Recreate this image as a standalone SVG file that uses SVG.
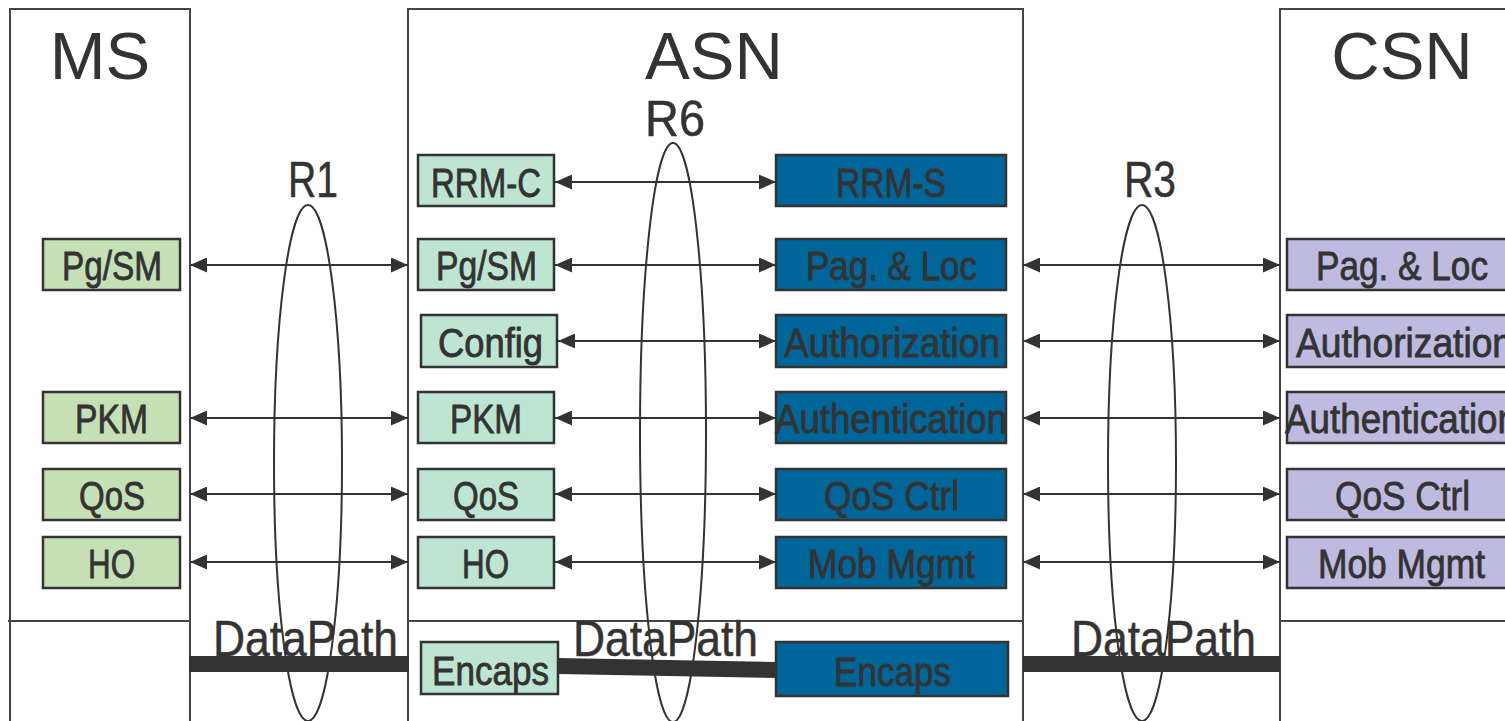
<svg xmlns="http://www.w3.org/2000/svg" width="1505" height="721" viewBox="0 0 1505 721">
<defs>
<marker id="ah" markerUnits="userSpaceOnUse" markerWidth="17" markerHeight="15" viewBox="0 0 17 15" refX="17" refY="7.5" orient="auto-start-reverse">
<path d="M0,0 L17,7.5 L0,15 z" fill="#333"/>
</marker>
<style>
.cont{fill:none;stroke:#444;stroke-width:2}
.div{stroke:#444;stroke-width:2}
.title{font-family:"Liberation Sans",Arial,sans-serif;font-size:67px;fill:#333;text-anchor:middle}
.lbl{font-family:"Liberation Sans Narrow","Liberation Sans",Arial,sans-serif;font-size:40px;fill:#333;stroke:#333;stroke-width:0.8}
.big{font-family:"Liberation Sans Narrow","Liberation Sans",Arial,sans-serif;font-size:50px;fill:#333;stroke:#333;stroke-width:0.5}
.ms{fill:#c6e0b6;stroke:#333;stroke-width:2.5}
.asn{fill:#bde5d1;stroke:#333;stroke-width:2.5}
.blue{fill:#006699;stroke:#333;stroke-width:2.5}
.csn{fill:#bebae0;stroke:#333;stroke-width:2.5}
.arr{stroke:#333;stroke-width:2;fill:none;marker-start:url(#ah);marker-end:url(#ah)}
.dp{stroke:#333;stroke-width:16;fill:none}
.ell{fill:none;stroke:#333;stroke-width:2}
</style>
</defs>
<rect width="1505" height="721" fill="#fff"/>

<g id="containers">
<rect class="cont" x="10" y="9" width="180" height="730"/>
<rect class="cont" x="408" y="9" width="615" height="730"/>
<rect class="cont" x="1280" y="9" width="240" height="730"/>
<line class="div" x1="8" y1="621" x2="190" y2="621"/>
<line class="div" x1="408" y1="621" x2="1023" y2="621"/>
<line class="div" x1="1280" y1="621" x2="1505" y2="621"/>
<text class="title" x="100" y="79">MS</text>
<text class="title" x="714" y="79">ASN</text>
<text class="title" x="1402" y="79">CSN</text>
</g>

<g id="ms-pgsm"><rect class="ms" x="43" y="239" width="137" height="51"/><text class="lbl" x="62" y="280" textLength="100" lengthAdjust="spacingAndGlyphs">Pg/SM</text></g>
<g id="ms-pkm"><rect class="ms" x="43" y="392" width="137" height="51"/><text class="lbl" x="75" y="433" textLength="73" lengthAdjust="spacingAndGlyphs">PKM</text></g>
<g id="ms-qos"><rect class="ms" x="43" y="469" width="137" height="51"/><text class="lbl" x="79" y="510" textLength="66" lengthAdjust="spacingAndGlyphs">QoS</text></g>
<g id="ms-ho"><rect class="ms" x="43" y="537" width="137" height="51"/><text class="lbl" x="88" y="578" textLength="47" lengthAdjust="spacingAndGlyphs">HO</text></g>

<g id="asn-rrmc"><rect class="asn" x="418" y="155" width="136" height="51"/><text class="lbl" x="431" y="197" textLength="110" lengthAdjust="spacingAndGlyphs">RRM-C</text></g>
<g id="asn-pgsm"><rect class="asn" x="418" y="239" width="136" height="51"/><text class="lbl" x="436" y="280" textLength="101" lengthAdjust="spacingAndGlyphs">Pg/SM</text></g>
<g id="asn-config"><rect class="asn" x="421" y="315" width="136" height="52"/><text class="lbl" x="438" y="357" textLength="105" lengthAdjust="spacingAndGlyphs">Config</text></g>
<g id="asn-pkm"><rect class="asn" x="418" y="392" width="136" height="51"/><text class="lbl" x="450" y="433" textLength="72" lengthAdjust="spacingAndGlyphs">PKM</text></g>
<g id="asn-qos"><rect class="asn" x="418" y="469" width="136" height="51"/><text class="lbl" x="453" y="510" textLength="66" lengthAdjust="spacingAndGlyphs">QoS</text></g>
<g id="asn-ho"><rect class="asn" x="418" y="537" width="136" height="51"/><text class="lbl" x="462" y="578" textLength="47" lengthAdjust="spacingAndGlyphs">HO</text></g>
<g id="asn-encaps"><rect class="asn" x="421" y="642" width="137" height="52"/><text class="lbl" x="432" y="685" textLength="117" lengthAdjust="spacingAndGlyphs">Encaps</text></g>

<g id="asn-rrms"><rect class="blue" x="776" y="155" width="230" height="51"/><text class="lbl" x="836" y="197" textLength="110" lengthAdjust="spacingAndGlyphs">RRM-S</text></g>
<g id="asn-pagloc"><rect class="blue" x="776" y="239" width="230" height="51"/><text class="lbl" x="806" y="280" textLength="171" lengthAdjust="spacingAndGlyphs">Pag. &amp; Loc</text></g>
<g id="asn-authz"><rect class="blue" x="776" y="315" width="230" height="52"/><text class="lbl" x="784" y="357" textLength="216" lengthAdjust="spacingAndGlyphs">Authorization</text></g>
<g id="asn-authn"><rect class="blue" x="776" y="392" width="230" height="51"/><text class="lbl" x="775" y="433" textLength="232" lengthAdjust="spacingAndGlyphs">Authentication</text></g>
<g id="asn-qosctrl"><rect class="blue" x="776" y="469" width="230" height="51"/><text class="lbl" x="824" y="510" textLength="135" lengthAdjust="spacingAndGlyphs">QoS Ctrl</text></g>
<g id="asn-mobmgmt"><rect class="blue" x="776" y="537" width="230" height="51"/><text class="lbl" x="808" y="578" textLength="167" lengthAdjust="spacingAndGlyphs">Mob Mgmt</text></g>
<g id="asn-encaps2"><rect class="blue" x="776" y="642" width="232" height="54"/><text class="lbl" x="834" y="686" textLength="117" lengthAdjust="spacingAndGlyphs">Encaps</text></g>

<g id="csn-pagloc"><rect class="csn" x="1287" y="239" width="230" height="51"/><text class="lbl" x="1316" y="280" textLength="172" lengthAdjust="spacingAndGlyphs">Pag. &amp; Loc</text></g>
<g id="csn-authz"><rect class="csn" x="1287" y="315" width="230" height="52"/><text class="lbl" x="1296" y="357" textLength="217" lengthAdjust="spacingAndGlyphs">Authorization</text></g>
<g id="csn-authn"><rect class="csn" x="1287" y="392" width="230" height="51"/><text class="lbl" x="1285" y="433" textLength="233" lengthAdjust="spacingAndGlyphs">Authentication</text></g>
<g id="csn-qosctrl"><rect class="csn" x="1287" y="469" width="230" height="51"/><text class="lbl" x="1335" y="510" textLength="135" lengthAdjust="spacingAndGlyphs">QoS Ctrl</text></g>
<g id="csn-mobmgmt"><rect class="csn" x="1287" y="537" width="230" height="51"/><text class="lbl" x="1318" y="578" textLength="167" lengthAdjust="spacingAndGlyphs">Mob Mgmt</text></g>

<g id="connectors">
<line class="arr" x1="555" y1="182" x2="776" y2="182"/>
<line class="arr" x1="190" y1="265" x2="408" y2="265"/>
<line class="arr" x1="555" y1="265" x2="776" y2="265"/>
<line class="arr" x1="1023" y1="265" x2="1280" y2="265"/>
<line class="arr" x1="558" y1="341" x2="776" y2="341"/>
<line class="arr" x1="1023" y1="341" x2="1280" y2="341"/>
<line class="arr" x1="190" y1="418" x2="408" y2="418"/>
<line class="arr" x1="555" y1="418" x2="776" y2="418"/>
<line class="arr" x1="1023" y1="418" x2="1280" y2="418"/>
<line class="arr" x1="190" y1="494" x2="408" y2="494"/>
<line class="arr" x1="555" y1="494" x2="776" y2="494"/>
<line class="arr" x1="1023" y1="494" x2="1280" y2="494"/>
<line class="arr" x1="190" y1="562" x2="408" y2="562"/>
<line class="arr" x1="555" y1="562" x2="776" y2="562"/>
<line class="arr" x1="1023" y1="562" x2="1280" y2="562"/>
<line class="dp" x1="189" y1="664" x2="409" y2="664"/>
<line class="dp" x1="558" y1="666" x2="776" y2="670"/>
<line class="dp" x1="1023" y1="664" x2="1280" y2="664"/>
</g>

<g id="interfaces">
<ellipse class="ell" cx="308" cy="463" rx="34" ry="258"/>
<ellipse class="ell" cx="673" cy="432.5" rx="33" ry="289.5"/>
<ellipse class="ell" cx="1142" cy="463" rx="34" ry="258"/>
<text class="big" x="288" y="197" textLength="50" lengthAdjust="spacingAndGlyphs">R1</text>
<text class="big" x="645" y="136" textLength="60" lengthAdjust="spacingAndGlyphs">R6</text>
<text class="big" x="1124" y="197" textLength="52" lengthAdjust="spacingAndGlyphs">R3</text>
<text class="big" x="213" y="656" textLength="185" lengthAdjust="spacingAndGlyphs">DataPath</text>
<text class="big" x="573" y="656" textLength="185" lengthAdjust="spacingAndGlyphs">DataPath</text>
<text class="big" x="1071" y="656" textLength="185" lengthAdjust="spacingAndGlyphs">DataPath</text>
</g>
</svg>
